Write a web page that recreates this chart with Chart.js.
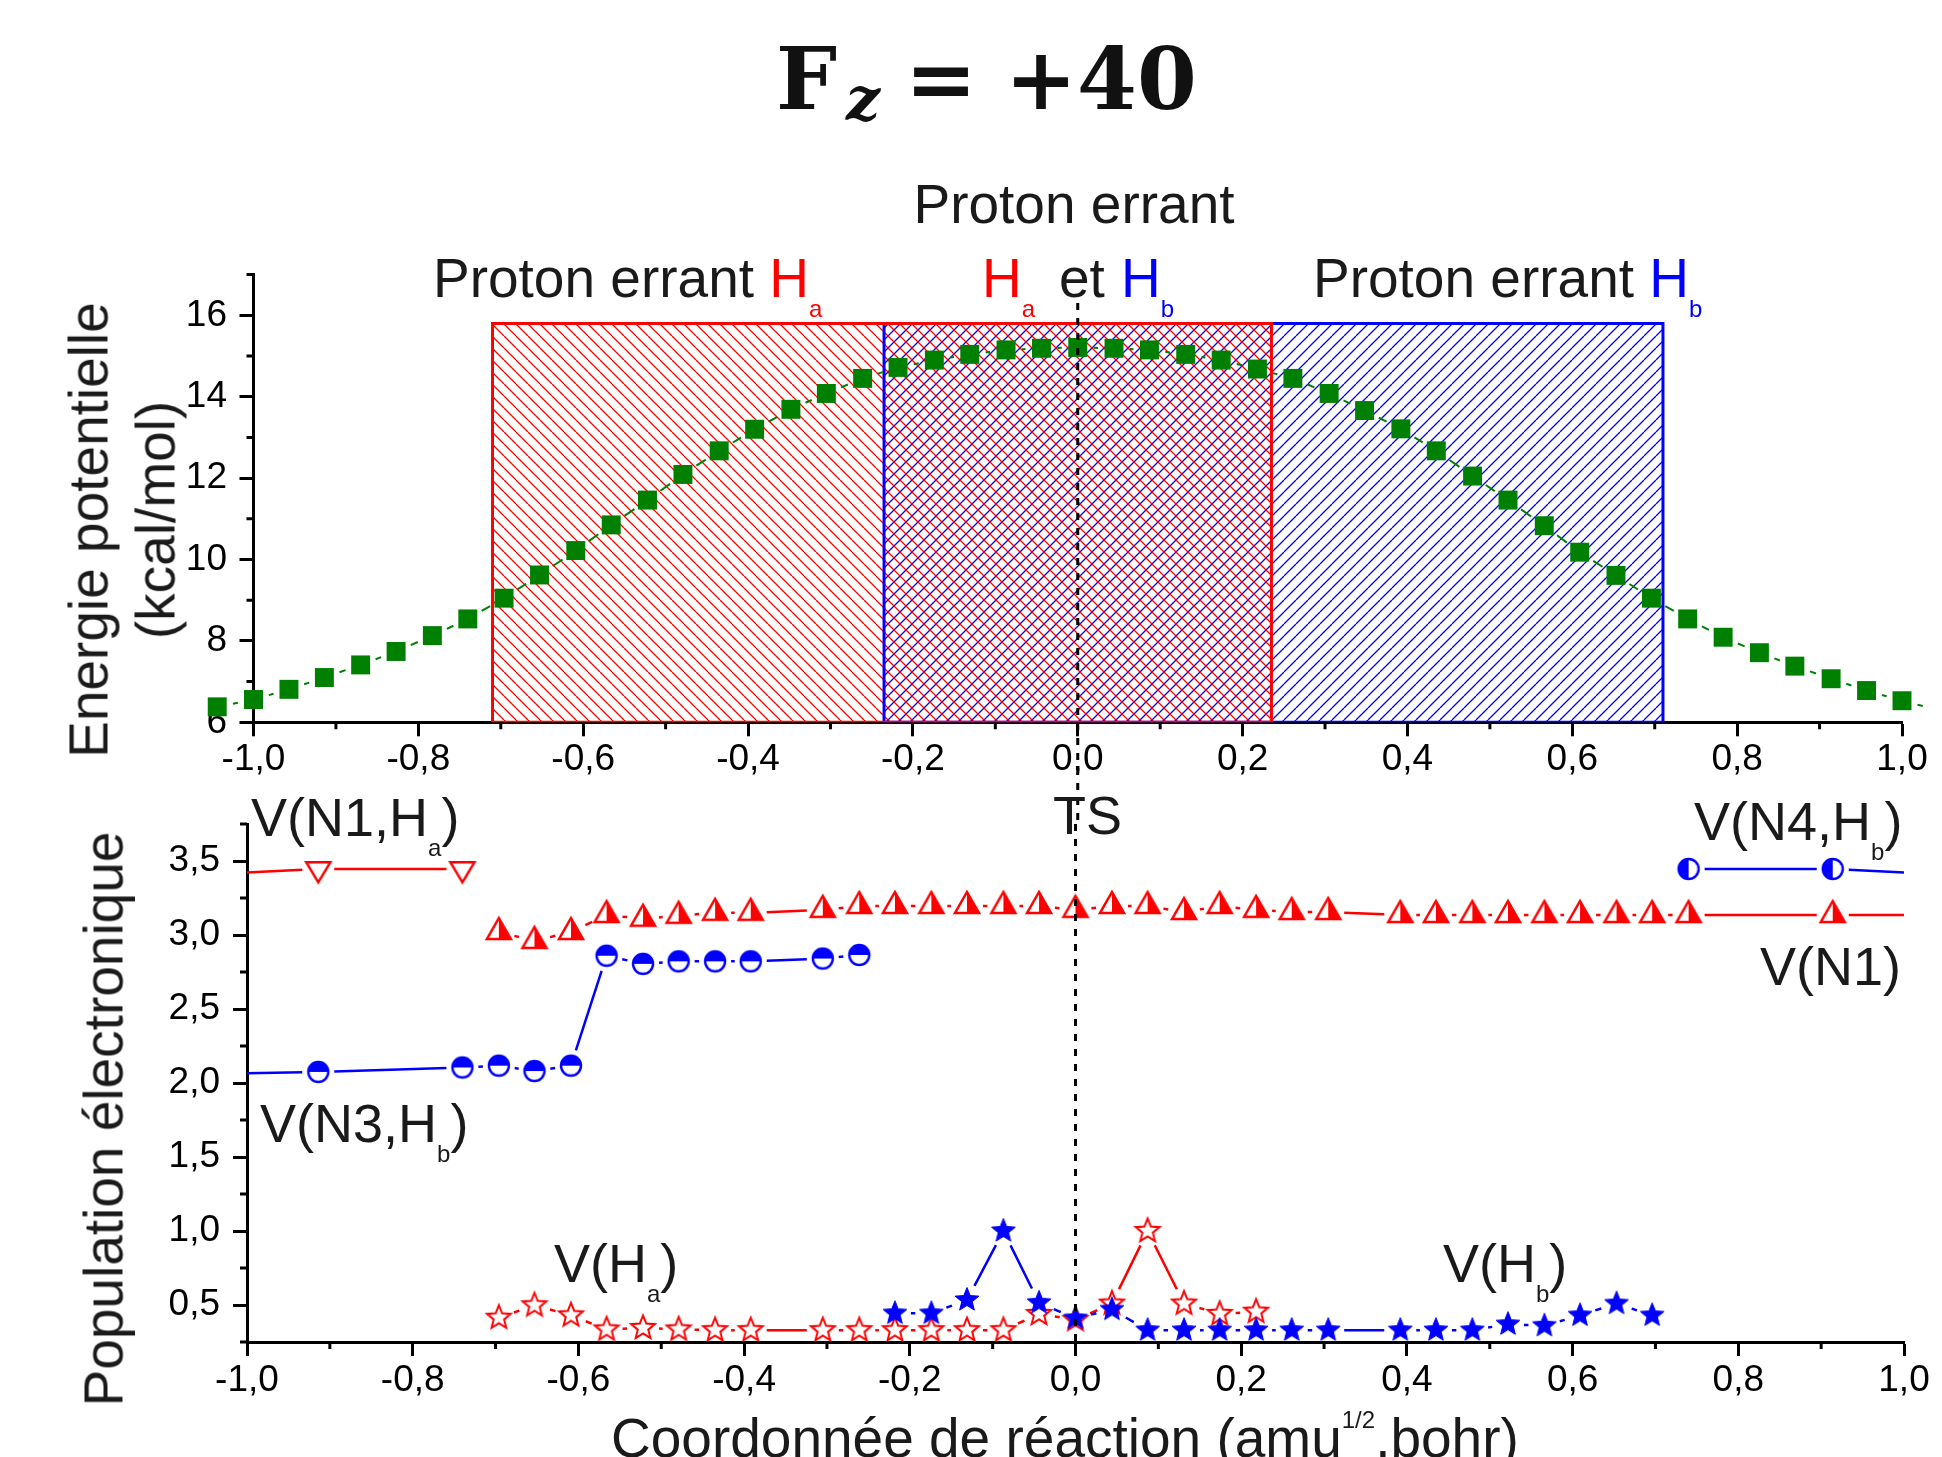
<!DOCTYPE html>
<html>
<head>
<meta charset="utf-8">
<title>Fz = +40</title>
<script src="https://cdn.jsdelivr.net/npm/chart.js@4.4.1/dist/chart.umd.min.js"></script>
<style>
  html, body { margin:0; padding:0; background:#fff; }
  #page { position:relative; width:1942px; height:1457px; overflow:hidden; background:#fff; }
  #page canvas { position:absolute; left:0; top:0; }
  .t { position:absolute; white-space:nowrap; line-height:1; font-family:'Liberation Sans', Arial, sans-serif; color:#1a1a1a; }
  .f55 { font-size:55px; }
  .f54 { font-size:54px; }
  .sub { font-size:24px; position:relative; top:20px; }
  .r { color:#ff0000; }
  .b { color:#0000ff; }
  .rot { transform: translate(-50%,-50%) rotate(-90deg); }
  .ttl { position:absolute; white-space:nowrap; line-height:1; font-family:'DejaVu Serif', serif; font-weight:bold; color:#111; }
</style>
</head>
<body>
<div id="page">
  <canvas id="cTop" width="1942" height="1457"></canvas>
  <canvas id="cBot" width="1942" height="1457"></canvas>

  <!-- main title -->
  <span class="ttl" style="left:776px;top:36px;font-size:86px;">F</span>
  <span class="ttl" style="left:846px;top:69px;font-size:60px;font-style:italic;">z</span>
  <span class="ttl" style="left:905px;top:36px;font-size:86px;">=</span>
  <span class="ttl" style="left:1005px;top:36px;font-size:86px;">+40</span>

  <!-- region labels, upper panel -->
  <div class="t f55" style="left:1074px;top:177px;transform:translateX(-50%);">Proton errant</div>
  <div class="t f55" style="left:433px;top:251px;">Proton errant <span class="r">H</span><span class="sub r">a</span></div>
  <div class="t f55" style="left:982px;top:251px;"><span class="r">H</span><span class="sub r">a</span></div>
  <div class="t f55" style="left:1059px;top:251px;">et</div>
  <div class="t f55" style="left:1121px;top:251px;"><span class="b">H</span><span class="sub b">b</span></div>
  <div class="t f55" style="left:1313px;top:251px;">Proton errant <span class="b">H</span><span class="sub b">b</span></div>

  <!-- axis titles -->
  <div class="t f55 rot" style="left:89px;top:530px;">Energie potentielle</div>
  <div class="t f55 rot" style="left:156px;top:520px;">(kcal/mol)</div>
  <div class="t f55 rot" style="left:104px;top:1119px;">Population électronique</div>
  <div class="t f55" style="left:611px;top:1411px;">Coordonnée de réaction (amu<span style="font-size:24px;position:relative;top:-29px;">1/2</span>.bohr)</div>

  <!-- series labels, lower panel -->
  <div class="t f54" style="left:251px;top:790px;">V(N1,H<span class="sub">a</span>)</div>
  <div class="t f54" style="left:1053px;top:788px;">TS</div>
  <div class="t f54" style="left:1694px;top:794px;">V(N4,H<span class="sub">b</span>)</div>
  <div class="t f54" style="left:1760px;top:939px;">V(N1)</div>
  <div class="t f54" style="left:260px;top:1096px;">V(N3,H<span class="sub">b</span>)</div>
  <div class="t f54" style="left:554px;top:1236px;">V(H<span class="sub">a</span>)</div>
  <div class="t f54" style="left:1443px;top:1236px;">V(H<span class="sub">b</span>)</div>
</div>

<script>
// ================= DATA =================
// upper panel : potential energy (kcal/mol) along the reaction coordinate
const energyX = [-1.044,-1.000,-0.957,-0.914,-0.870,-0.827,-0.783,-0.740,-0.696,-0.653,-0.609,-0.566,-0.522,-0.479,-0.435,-0.392,-0.348,-0.305,-0.261,-0.218,-0.174,-0.131,-0.087,-0.044,0.000,
                 0.044,0.087,0.131,0.174,0.218,0.261,0.305,0.348,0.392,0.435,0.479,0.522,0.566,0.609,0.653,0.696,0.740,0.783,0.827,0.870,0.914,0.957,1.000,1.044];
const energy  = [6.38,6.56,6.81,7.10,7.41,7.74,8.13,8.54,9.05,9.62,10.22,10.85,11.46,12.09,12.67,13.20,13.69,14.08,14.45,14.72,14.90,15.04,15.15,15.19,15.21,
                 15.19,15.15,15.04,14.90,14.68,14.45,14.08,13.66,13.21,12.67,12.05,11.46,10.83,10.18,9.61,9.05,8.54,8.09,7.71,7.38,7.07,6.78,6.53,6.30];
// wandering-proton zones (x extent) and their height
const zoneHaX = [-0.71, 0.235];
const zoneHbX = [-0.235, 0.71];
const zoneTop = 15.8;

// lower panel : electron populations
const n1haX = [-1.044,-0.914,-0.740];
const n1haY = [3.41,3.446,3.446];
const n1X = [-0.696,-0.653,-0.609,-0.566,-0.522,-0.479,-0.435,-0.392,-0.305,-0.261,-0.218,-0.174,-0.131,-0.087,-0.044,0.000,
             0.044,0.087,0.131,0.174,0.218,0.261,0.305,0.392,0.435,0.479,0.522,0.566,0.609,0.653,0.696,0.740,0.914,1.044];
const n1Y = [3.02,2.96,3.02,3.135,3.11,3.13,3.15,3.15,3.17,3.196,3.196,3.196,3.196,3.196,3.196,3.17,
             3.196,3.196,3.155,3.196,3.17,3.155,3.155,3.135,3.135,3.135,3.135,3.135,3.135,3.135,3.135,3.135,3.135,3.135];
const n3hbX = [-1.044,-0.914,-0.740,-0.696,-0.653,-0.609,-0.566,-0.522,-0.479,-0.435,-0.392,-0.305,-0.261];
const n3hbY = [2.06,2.075,2.105,2.117,2.081,2.117,2.86,2.805,2.822,2.822,2.822,2.841,2.865];
const n4hbX = [0.740,0.914,1.044];
const n4hbY = [3.446,3.446,3.41];
const haX = [-0.696,-0.653,-0.609,-0.566,-0.522,-0.479,-0.435,-0.392,-0.305,-0.261,-0.218,-0.174,-0.131,-0.087,-0.044,0.000,0.044,0.087,0.131,0.174,0.218];
const haY = [0.414,0.498,0.43,0.335,0.345,0.335,0.33,0.33,0.33,0.33,0.33,0.33,0.33,0.33,0.44,0.40,0.51,1.0,0.51,0.44,0.455];
const hbX = [-0.218,-0.174,-0.131,-0.087,-0.044,0.000,0.044,0.087,0.131,0.174,0.218,0.261,0.305,0.392,0.435,0.479,0.522,0.566,0.609,0.653,0.696];
const hbY = [0.444,0.444,0.534,1.0,0.515,0.41,0.47,0.33,0.33,0.33,0.33,0.33,0.33,0.33,0.33,0.33,0.37,0.36,0.43,0.51,0.43];

// axis ranges
const xRange = [-1, 1];
const energyRange = [6, 17];
const popRange = [0.25, 3.75];

// ================= STYLE HELPERS =================
const RED = '#ff0000', BLUE = '#0000ff', GREEN = '#008000';
Chart.defaults.font.family = "'Liberation Sans', Arial, sans-serif";
Chart.defaults.color = '#000';
Chart.defaults.animation = false;

const pts = (xs, ys) => xs.map((x, i) => ({ x, y: ys[i] }));
// open outline (for the hatched fill down to the axis) and closed outline (for the border)
const zoneOpen = (xs, bottom, top) => [
  { x: xs[0], y: bottom }, { x: xs[0], y: top }, { x: xs[1], y: top }, { x: xs[1], y: bottom }
];
const zoneClosed = (xs, bottom, top) => zoneOpen(xs, bottom, top).concat([{ x: xs[0], y: bottom }]);

function hatch(ctx, color, dir) {
  const s = 12, c = document.createElement('canvas');
  c.width = s; c.height = s;
  const g = c.getContext('2d');
  g.strokeStyle = color; g.lineWidth = 1.3;
  g.beginPath();
  for (let k = -1; k <= 1; k++) {
    if (dir === '\\') { g.moveTo(k * s, 0); g.lineTo(k * s + s, s); }
    else { g.moveTo(k * s, s); g.lineTo(k * s + s, 0); }
  }
  g.stroke();
  return ctx.createPattern(c, 'repeat');
}

function marker(w, h, draw) {
  const c = document.createElement('canvas');
  c.width = w; c.height = h;
  draw(c.getContext('2d'), w / 2, h / 2);
  return c;
}
function starPath(g, cx, cy, R, r) {
  g.beginPath();
  for (let k = 0; k < 10; k++) {
    const a = -Math.PI / 2 + k * Math.PI / 5, rad = k % 2 === 0 ? R : r;
    const px = cx + rad * Math.cos(a), py = cy + rad * Math.sin(a);
    if (k === 0) g.moveTo(px, py); else g.lineTo(px, py);
  }
  g.closePath();
}
const triDownOpen = marker(36, 36, (g, cx, cy) => {
  const hw = 12, h = 20;
  g.beginPath(); g.moveTo(cx - hw, cy - h / 3); g.lineTo(cx + hw, cy - h / 3); g.lineTo(cx, cy + 2 * h / 3); g.closePath();
  g.fillStyle = '#fff'; g.fill(); g.lineWidth = 2.5; g.strokeStyle = RED; g.stroke();
});
const triUpHalf = marker(36, 36, (g, cx, cy) => {
  const hw = 12, h = 21, ay = cy - 2 * h / 3, by = cy + h / 3;
  g.beginPath(); g.moveTo(cx, ay); g.lineTo(cx + hw, by); g.lineTo(cx - hw, by); g.closePath();
  g.fillStyle = '#fff'; g.fill();
  g.beginPath(); g.moveTo(cx, ay); g.lineTo(cx + hw, by); g.lineTo(cx, by); g.closePath();
  g.fillStyle = RED; g.fill();
  g.beginPath(); g.moveTo(cx, ay); g.lineTo(cx + hw, by); g.lineTo(cx - hw, by); g.closePath();
  g.lineWidth = 2.5; g.strokeStyle = RED; g.stroke();
});
const circTopHalf = marker(28, 28, (g, cx, cy) => {
  const r = 10;
  g.beginPath(); g.arc(cx, cy, r, 0, 2 * Math.PI); g.fillStyle = '#fff'; g.fill();
  g.beginPath(); g.moveTo(cx - r, cy); g.arc(cx, cy, r, Math.PI, 2 * Math.PI); g.closePath(); g.fillStyle = BLUE; g.fill();
  g.beginPath(); g.arc(cx, cy, r, 0, 2 * Math.PI); g.lineWidth = 2.4; g.strokeStyle = BLUE; g.stroke();
});
const circLeftHalf = marker(28, 28, (g, cx, cy) => {
  const r = 10;
  g.beginPath(); g.arc(cx, cy, r, 0, 2 * Math.PI); g.fillStyle = '#fff'; g.fill();
  g.beginPath(); g.moveTo(cx, cy + r); g.arc(cx, cy, r, Math.PI / 2, 3 * Math.PI / 2); g.closePath(); g.fillStyle = BLUE; g.fill();
  g.beginPath(); g.arc(cx, cy, r, 0, 2 * Math.PI); g.lineWidth = 2.4; g.strokeStyle = BLUE; g.stroke();
});
const starOpen = marker(32, 32, (g, cx, cy) => {
  starPath(g, cx, cy, 12.5, 5.5); g.fillStyle = '#fff'; g.fill(); g.lineWidth = 2; g.strokeStyle = RED; g.stroke();
});
const starFilled = marker(32, 32, (g, cx, cy) => {
  starPath(g, cx, cy, 12.5, 5.5); g.fillStyle = BLUE; g.fill(); g.lineWidth = 1; g.strokeStyle = BLUE; g.stroke();
});

// ================= PLUGINS =================
// connecting lines with a gap around each symbol (Origin "gap to symbol")
const gapLines = {
  id: 'gapLines',
  beforeDatasetDraw(chart, args) {
    const ds = chart.data.datasets[args.index];
    const gl = ds.gapLine;
    if (!gl) return;
    const el = args.meta.data, ctx = chart.ctx, a = chart.chartArea;
    ctx.save();
    if (gl.clip) { ctx.beginPath(); ctx.rect(a.left, a.top, a.right - a.left, a.bottom - a.top); ctx.clip(); }
    ctx.strokeStyle = gl.color; ctx.lineWidth = gl.width; ctx.lineCap = 'butt';
    ctx.beginPath();
    for (let j = 0; j < el.length - 1; j++) {
      const p = el[j], q = el[j + 1];
      const dx = q.x - p.x, dy = q.y - p.y, L = Math.hypot(dx, dy);
      if (L <= 2 * gl.gap) continue;
      const ux = dx / L, uy = dy / L;
      ctx.moveTo(p.x + ux * gl.gap, p.y + uy * gl.gap);
      ctx.lineTo(q.x - ux * gl.gap, q.y - uy * gl.gap);
    }
    ctx.stroke();
    ctx.restore();
  }
};

function minorTicks(isMajX, isMajY) {
  return {
    id: 'minorTicks',
    afterDraw(chart) {
      const ctx = chart.ctx, a = chart.chartArea, sx = chart.scales.x, sy = chart.scales.y;
      ctx.save(); ctx.strokeStyle = '#000'; ctx.lineWidth = 3; ctx.beginPath();
      sx.ticks.forEach(t => { if (!isMajX(t.value)) { const p = sx.getPixelForValue(t.value); ctx.moveTo(p, a.bottom); ctx.lineTo(p, a.bottom + 7); } });
      sy.ticks.forEach(t => { if (!isMajY(t.value)) { const p = sy.getPixelForValue(t.value); ctx.moveTo(a.left - 7, p); ctx.lineTo(a.left, p); } });
      ctx.stroke(); ctx.restore();
    }
  };
}

function tsLine(fromVal, toVal) {
  return {
    id: 'tsLine',
    afterDatasetsDraw(chart) {
      const ctx = chart.ctx, sx = chart.scales.x, sy = chart.scales.y;
      const x = sx.getPixelForValue(0);
      ctx.save(); ctx.strokeStyle = '#000'; ctx.lineWidth = 3; ctx.setLineDash([7, 8]);
      ctx.beginPath(); ctx.moveTo(x, sy.getPixelForValue(fromVal)); ctx.lineTo(x, sy.getPixelForValue(toVal)); ctx.stroke();
      ctx.restore();
    }
  };
}

// ================= AXES =================
const fmt1 = v => (Math.round(v * 10) / 10).toFixed(1).replace('.', ',');
const isMajX = v => Math.abs(Math.round(v * 10)) % 2 === 0;
const isMajE = v => Math.round(v) % 2 === 0;
const isMajP = v => Math.round(v * 4) % 2 === 0;

function axis(range, step, isMajor, fmt, pad, fitKey, fitVal) {
  return {
    type: 'linear', min: range[0], max: range[1],
    afterFit: s => { s[fitKey] = fitVal; },
    ticks: {
      stepSize: step, maxTicksLimit: 1000, autoSkip: false, maxRotation: 0, minRotation: 0,
      padding: pad, color: '#000', font: { size: 37 },
      callback: v => isMajor(v) ? fmt(v) : ''
    },
    grid: {
      display: true, drawOnChartArea: false, drawTicks: true, tickLength: 14, tickWidth: 3,
      tickColor: c => (c.tick && isMajor(c.tick.value)) ? '#000' : 'rgba(0,0,0,0)'
    },
    border: { display: true, color: '#000', width: 3 }
  };
}

const common = {
  responsive: false, devicePixelRatio: 1, animation: false, events: [],
  plugins: { legend: { display: false }, tooltip: { enabled: false } }
};

// ================= UPPER CHART =================
const ctxTop = document.getElementById('cTop').getContext('2d');
const zoneFill = (label, xs, color, dir, order) => ({
  label, type: 'line', data: zoneOpen(xs, energyRange[0], zoneTop), showLine: true,
  borderWidth: 0, borderColor: 'rgba(0,0,0,0)', pointRadius: 0, tension: 0, fill: 'start',
  backgroundColor: hatch(ctxTop, color, dir), order
});
const zoneBorder = (label, xs, color, order) => ({
  label, type: 'line', data: zoneClosed(xs, energyRange[0], zoneTop), showLine: true,
  borderWidth: 3, borderColor: color, pointRadius: 0, tension: 0, fill: false, order
});
new Chart(ctxTop, {
  type: 'scatter',
  data: {
    datasets: [
      zoneFill('Proton errant Hb (zone)', zoneHbX, BLUE, '/', 7),
      zoneFill('Proton errant Ha (zone)', zoneHaX, RED, '\\', 6),
      zoneBorder('Proton errant Hb', zoneHbX, BLUE, 5),
      zoneBorder('Proton errant Ha', zoneHaX, RED, 4),
      { label: 'Energie', data: pts(energyX, energy), showLine: false, clip: false,
        pointStyle: 'rect', pointRadius: 13.4, pointHoverRadius: 40, pointBackgroundColor: GREEN, pointBorderWidth: 0,
        gapLine: { color: GREEN, width: 2, gap: 16 }, order: 1 }
    ]
  },
  options: Object.assign({}, common, {
    layout: { padding: { left: 0, right: 34.5, top: 274.6, bottom: 674.7 } },
    scales: {
      x: axis(xRange, 0.1, isMajX, fmt1, 1, 'height', 60),
      y: axis(energyRange, 1, isMajE, v => String(Math.round(v)), 12.5, 'width', 253.5)
    }
  }),
  plugins: [gapLines, minorTicks(isMajX, isMajE), tsLine(16.3, 3.6)]
});

// ================= LOWER CHART =================
const ctxBot = document.getElementById('cBot').getContext('2d');
const popSet = (label, xs, ys, style, color, order) => ({
  label, data: pts(xs, ys), showLine: false, pointStyle: style, pointRadius: 10, pointHoverRadius: 10,
  gapLine: { color, width: 2.5, gap: 16, clip: true }, order
});
new Chart(ctxBot, {
  type: 'scatter',
  data: {
    datasets: [
      popSet('V(N1,Ha)', n1haX, n1haY, triDownOpen, RED, 6),
      popSet('V(N1)', n1X, n1Y, triUpHalf, RED, 5),
      popSet('V(N3,Hb)', n3hbX, n3hbY, circTopHalf, BLUE, 4),
      popSet('V(N4,Hb)', n4hbX, n4hbY, circLeftHalf, BLUE, 3),
      popSet('V(Ha)', haX, haY, starOpen, RED, 2),
      popSet('V(Hb)', hbX, hbY, starFilled, BLUE, 1)
    ]
  },
  options: Object.assign({}, common, {
    layout: { padding: { left: 0, right: 38, top: 824, bottom: 55 } },
    scales: {
      x: axis(xRange, 0.1, isMajX, fmt1, 3, 'height', 60),
      y: axis(popRange, 0.25, isMajP, fmt1, 13, 'width', 247)
    }
  }),
  plugins: [gapLines, minorTicks(isMajX, isMajP), tsLine(3.75, 0.25)]
});
</script>
</body>
</html>
